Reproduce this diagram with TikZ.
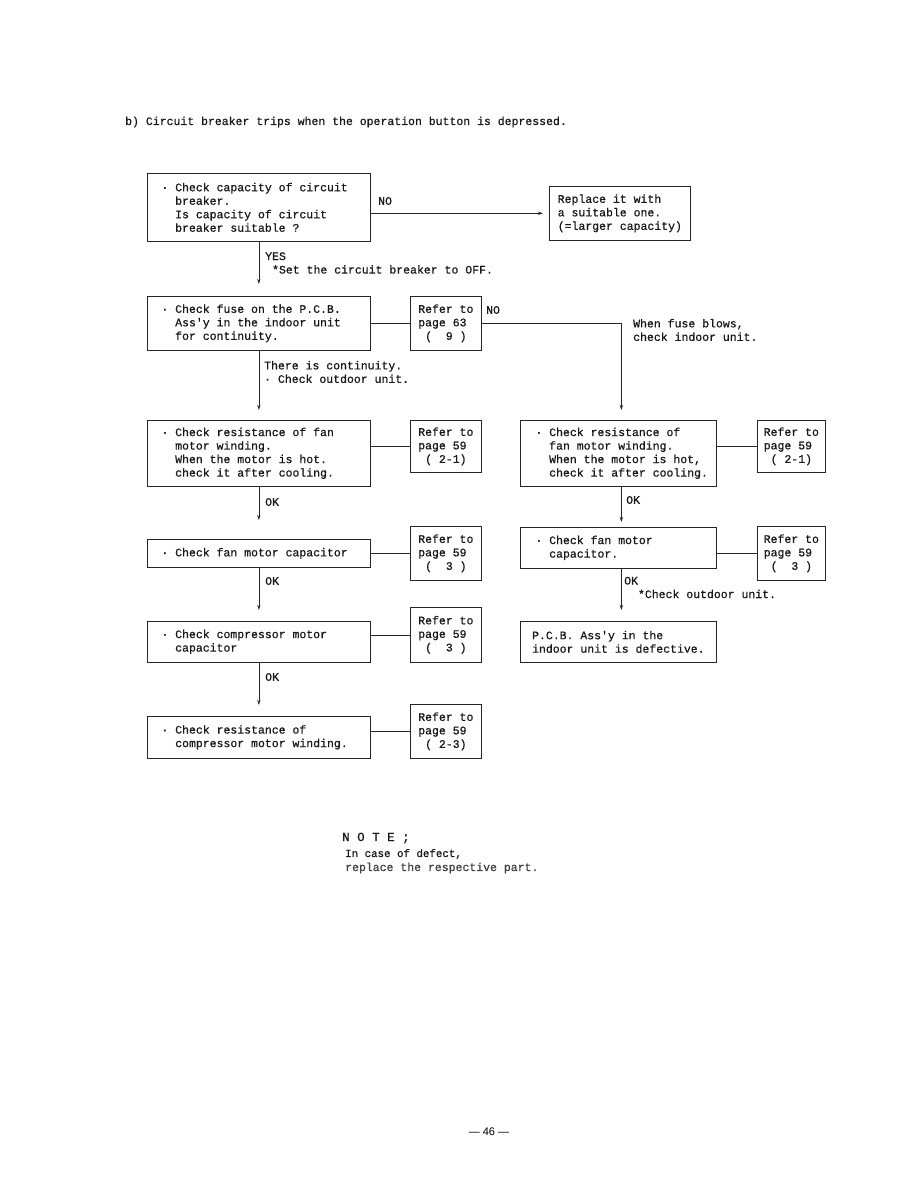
\documentclass[tikz,border=0pt]{standalone}
\usepackage{fontspec}
\setmainfont{Liberation Mono}[BoldFont=Liberation Mono, BoldFeatures={FakeBold=0.7}]
\newfontfamily\pagefont{Liberation Sans}
\usetikzlibrary{arrows.meta}
\tikzset{
  box/.style={draw=black!85, line width=0.7pt, anchor=north west, inner sep=0pt},
  txt/.style={align=left, inner sep=0pt, font=\fontsize{11.5}{13.5}\selectfont\bfseries, text=black!90},
  refbox/.style={box, txt, minimum width=71pt, minimum height=54pt},
  conn/.style={draw=black!85, line width=0.6pt},
  arr/.style={conn, -{Stealth[length=5pt,width=3.2pt]}},
}
\begin{document}
\begin{tikzpicture}[x=1pt,y=-1pt]
\path[use as bounding box, fill=white] (0,0) rectangle (918,1188);

% title
\node[txt, anchor=west] (title) at (125,122) {b) Circuit breaker trips when the operation button is depressed.};

% ---------- left column ----------
\node[box, minimum width=223pt, minimum height=68pt] (b1) at (147,173) {};
\node[txt, anchor=west] (b1t) at ([xshift=28pt]b1.west) {\llap{·~}Check capacity of circuit\\breaker.\\Is capacity of circuit\\breaker suitable ?};

\node[box, txt, minimum width=141pt, minimum height=54pt] (bR) at (549,186) {Replace it with\\a suitable one.\\(=larger capacity)};

\node[box, minimum width=223pt, minimum height=54pt] (b2) at (147,296) {};
\node[txt, anchor=west] (b2t) at ([xshift=28pt]b2.west) {\llap{·~}Check fuse on the P.C.B.\\Ass\textquotesingle y in the indoor unit\\for continuity.};
\node[refbox] (r2) at (410,296) {Refer to\\page 63\\~(~~9~)};

\node[box, minimum width=223pt, minimum height=66pt] (b3) at (147,420) {};
\node[txt, anchor=west] (b3t) at ([xshift=28pt]b3.west) {\llap{·~}Check resistance of fan\\motor winding.\\When the motor is hot.\\check it after cooling.};
\node[refbox, minimum height=52pt] (r3) at (410,420) {Refer to\\page 59\\~(~2-1)};

\node[box, minimum width=223pt, minimum height=28pt] (b4) at (147,539) {};
\node[txt, anchor=west] (b4t) at ([xshift=28pt]b4.west) {\llap{·~}Check fan motor capacitor};
\node[refbox] (r4) at (410,526) {Refer to\\page 59\\~(~~3~)};

\node[box, minimum width=223pt, minimum height=41pt] (b5) at (147,621) {};
\node[txt, anchor=west] (b5t) at ([xshift=28pt]b5.west) {\llap{·~}Check compressor motor\\capacitor};
\node[refbox, minimum height=55pt] (r5) at (410,607) {Refer to\\page 59\\~(~~3~)};

\node[box, minimum width=223pt, minimum height=42pt] (b6) at (147,716) {};
\node[txt, anchor=west] (b6t) at ([xshift=28pt]b6.west) {\llap{·~}Check resistance of\\compressor motor winding.};
\node[refbox] (r6) at (410,704) {Refer to\\page 59\\~(~2-3)};

% ---------- right column ----------
\node[box, minimum width=196pt, minimum height=66pt] (c3) at (520,420) {};
\node[txt, anchor=west] (c3t) at ([xshift=29pt]c3.west) {\llap{·~}Check resistance of\\fan motor winding.\\When the motor is hot,\\check it after cooling.};
\node[refbox, minimum width=68pt, minimum height=52pt] (s3) at (757,420) {Refer to\\page 59\\~(~2-1)};

\node[box, minimum width=196pt, minimum height=41pt] (c4) at (520,527) {};
\node[txt, anchor=west] (c4t) at ([xshift=29pt]c4.west) {\llap{·~}Check fan motor\\capacitor.};
\node[refbox, minimum width=68pt] (s4) at (757,526) {Refer to\\page 59\\~(~~3~)};

\node[box, txt, minimum width=196pt, minimum height=41pt] (c5) at (520,621) {P.C.B. Ass\textquotesingle y in the\\indoor unit is defective.};

% ---------- connectors ----------
\draw[arr, shorten >=6pt] (b1.east |- bR.west) -- (bR.west);
\draw[arr, shorten >=12pt] (b1.south) -- (b2.north);
\draw[conn] (b2.east |- r2.west) -- (r2.west);
\draw[arr, shorten >=10pt] (r2.east) -| ([xshift=3pt]c3.north);
\draw[arr, shorten >=10pt] (b2.south) -- (b3.north);
\draw[conn] (b3.east |- r3.west) -- (r3.west);
\draw[arr, shorten >=19pt] (b3.south) -- (b4.north);
\draw[conn] (b4.east |- r4.west) -- (r4.west);
\draw[arr, shorten >=11pt] (b4.south) -- (b5.north);
\draw[conn] (b5.east |- r5.west) -- (r5.west);
\draw[arr, shorten >=11pt] (b5.south) -- (b6.north);
\draw[conn] (b6.east |- r6.west) -- (r6.west);

\draw[conn] (c3.east |- s3.west) -- (s3.west);
\draw[arr, shorten >=5pt] ([xshift=3pt]c3.south) -- ([xshift=3pt]c4.north);
\draw[conn] (c4.east |- s4.west) -- (s4.west);
\draw[arr, shorten >=11pt] ([xshift=3pt]c4.south) -- ([xshift=3pt]c5.north);

% ---------- labels ----------
\node[txt, anchor=west] (no1) at (378,201) {NO};
\node[txt, anchor=west] (yes1) at (265,263) {YES\\~*Set the circuit breaker to OFF.};
\node[txt, anchor=west] (no2) at (486,310) {NO};
\node[txt, anchor=west] (fuse) at (633,330) {When fuse blows,\\check indoor unit.};
\node[txt, anchor=west] (cont) at (264,372) {There is continuity.\\·~Check outdoor unit.};
\node[txt, anchor=west] (ok3) at (265,502) {OK};
\node[txt, anchor=west] (ok4) at (265,581) {OK};
\node[txt, anchor=west] (ok5) at (265,677) {OK};
\node[txt, anchor=west] (okc3) at (626,500) {OK};
\node[txt, anchor=west] (okc4) at (624,587.5) {OK\\~~*Check outdoor unit.};

% ---------- note ----------
\node[txt, anchor=west, font=\fontsize{12.5}{14}\selectfont\bfseries] (note) at (342,838) {N~O~T~E~;};
\node[txt, anchor=west, font=\fontsize{10.8}{13}\selectfont\bfseries] (note1) at (345,854) {In case of defect,};
\node[txt, anchor=west, text=black!75] (note2) at (345,868) {replace the respective part.};

\node[inner sep=0pt, font=\pagefont\fontsize{11}{13}\selectfont] (pg) at (489,1132) {— 46 —};
\end{tikzpicture}
\end{document}
